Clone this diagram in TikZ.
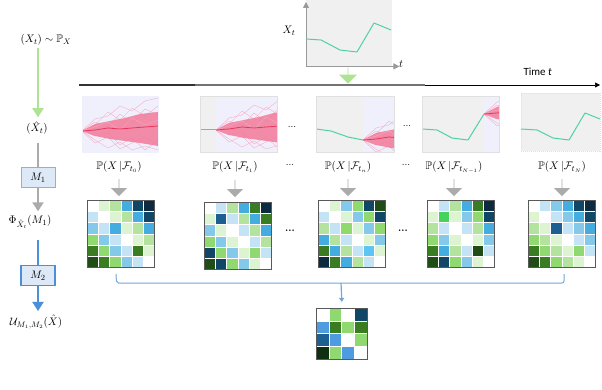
\documentclass[tikz,border=0pt]{standalone}
\usepackage{amsmath,amssymb}
\usepackage{fontspec}
\newfontfamily\carlito{Carlito}
\usetikzlibrary{arrows.meta,shapes.arrows,calc}
\definecolor{cW}{HTML}{FFFFFF}
\definecolor{VG}{HTML}{DCF4D2}
\definecolor{LG}{HTML}{B4E3A0}
\definecolor{MG}{HTML}{90D870}
\definecolor{DG}{HTML}{3A7C22}
\definecolor{XG}{HTML}{1F4D15}
\definecolor{KG}{HTML}{102E10}
\definecolor{GG}{HTML}{45D35C}
\definecolor{VB}{HTML}{C4E4F5}
\definecolor{LB}{HTML}{84C9EA}
\definecolor{MB}{HTML}{45ACE0}
\definecolor{SB}{HTML}{5EC5F2}
\definecolor{PB}{HTML}{4F9BE0}
\definecolor{BB}{HTML}{1C5F90}
\definecolor{DB}{HTML}{114766}
\definecolor{NB}{HTML}{0C2B40}
\definecolor{lav}{HTML}{F0F0FC}
\definecolor{pgray}{HTML}{F0F0F0}
\definecolor{bandc}{HTML}{F27A9A}
\definecolor{pinkl}{HTML}{F7AAC2}
\definecolor{meanc}{HTML}{E8365E}
\definecolor{trajc}{HTML}{4FD1A5}
\definecolor{arrg}{HTML}{AEE394}
\definecolor{arrgray}{HTML}{ABABAB}
\definecolor{arrb}{HTML}{4A90D9}
\definecolor{boxfill}{HTML}{DDE9F6}
\definecolor{bracec}{HTML}{6FA8DC}

\newcommand\heatmap[6]{%
  \foreach \c [count=\k from 0] in {#6} {%
    \pgfmathtruncatemacro\rr{\k/#5}%
    \pgfmathtruncatemacro\qq{\k-\rr*#5}%
    \fill[fill=\c,draw=white,line width=0.2pt] ({#2+\qq*#4},{#3+\rr*#4}) rectangle ++(#4,#4);}%
  \node[matframe, minimum size={#4*#5*1pt}, anchor=north west] (#1) at (#2,#3) {};}

\newcommand\drawfan{%
  \draw[fanline] (0,0) -- (13,-12) -- (26,-15) -- (38,-25) -- (50,-20) -- (63,-30) -- (76,-33) -- (95,-30);
  \draw[fanline] (0,0) -- (13,9) -- (26,17) -- (38,11) -- (50,19) -- (63,15) -- (76,19) -- (95,22);
  \draw[fanline] (0,0) -- (13,-6) -- (26,-19) -- (38,-11) -- (50,-23) -- (63,-15) -- (76,-25) -- (95,-20);
  \draw[fanline] (0,0) -- (13,5) -- (26,2) -- (38,14) -- (50,7) -- (63,19) -- (76,9) -- (95,14);
  \draw[fanline] (0,0) -- (13,12) -- (26,6) -- (38,18) -- (50,12) -- (63,6) -- (76,14) -- (95,6);
  \draw[fanline] (0,0) -- (13,-9) -- (26,-4) -- (38,-17) -- (50,-8) -- (63,-22) -- (76,-16) -- (95,-26);
  \fill[fanband] (0,0) -- (13,-7) -- (28,-10) -- (43,-13) -- (58,-17) -- (76,-19) -- (95,-21)
     -- (95,16) -- (76,15) -- (58,12) -- (43,10) -- (28,8) -- (13,5) -- cycle;
  \draw[fanline] (0,0) -- (13,-4) -- (26,-9) -- (38,-1) -- (50,-13) -- (63,-6) -- (76,-11) -- (95,-8);
  \draw[fanmean] (0,0) -- (13,-1) -- (26,-3) -- (38,-2) -- (50,-3) -- (63,-4) -- (76,-5) -- (95,-6);}

\begin{document}
\begin{tikzpicture}[x=1pt,y=-1pt,
  lbl/.style={font=\fontsize{11}{13}\selectfont, inner sep=2pt},
  mbox/.style={draw=arrgray, fill=boxfill, line width=1pt, minimum width=34pt, minimum height=20pt, inner sep=0pt, font=\fontsize{11}{13}\selectfont},
  mboxb/.style={mbox, draw=arrb, line width=1.2pt},
  garr/.style={draw=arrg, line width=2pt, -{Triangle[width=11pt,length=9pt]}, shorten >=2pt},
  grayln/.style={draw=arrgray, line width=2pt},
  grayarr/.style={grayln, -{Triangle[width=11pt,length=9pt]}, shorten >=2pt},
  blueln/.style={draw=arrb, line width=2pt},
  bluearr/.style={blueln, -{Triangle[width=11pt,length=9pt]}, shorten >=2pt},
  blockarr/.style={single arrow, draw=none, fill=arrgray, minimum width=16pt, single arrow head extend=4pt, minimum height=17pt, inner sep=0pt, single arrow tip angle=90, rotate=-90},
  matframe/.style={draw=black!65, line width=0.7pt, inner sep=0pt, fill=none},
  panel/.style={draw=black!12, line width=0.4pt},
  fanline/.style={draw=pinkl, line width=0.35pt},
  fanband/.style={fill=bandc, opacity=0.85},
  fanmean/.style={draw=meanc, line width=0.8pt},
  traj/.style={draw=trajc, line width=1pt, line join=round},
  dots/.style={font=\fontsize{10}{12}\selectfont, inner sep=1pt},
  bracel/.style={draw=bracec, line width=1pt, rounded corners=2pt}
]
\useasboundingbox (0,0) rectangle (602,390);
\clip (0,0) rectangle (602,390);

% ---------- left column ----------
\node[lbl] (px) at (46,40) {$(X_t)\sim\mathbb{P}_X$};
\node[lbl] (xh) at (37,128) {$(\hat{X}_t)$};
\node[mbox] (m1) at (38,178) {$M_1$};
\node[lbl] (phi) at (30,222) {$\Phi_{\hat{X}_t}(M_1)$};
\node[mboxb] (m2) at (38,275.5) {$M_2$};
\node[lbl] (u) at (36,322) {$\mathcal{U}_{M_1,M_2}(\hat{X})$};
\draw[garr] (m1.north |- px.south) -- (m1.north |- xh.north);
\draw[grayln] ([yshift=-6pt]m1.north |- xh.south) -- (m1.north);
\draw[grayarr] (m1.south) -- (m1.south |- phi.north);
\draw[blueln] ([yshift=-9pt]m2.north |- phi.south) -- (m2.north);
\draw[bluearr] (m2.south) -- (m2.south |- u.north);

% ---------- top chart ----------
\node[fill=pgray, minimum width=86pt, minimum height=66pt, inner sep=0pt, anchor=north west] (chart) at (306,0) {};
\draw[draw=black!40, line width=0.8pt, -{Triangle[width=6pt,length=6pt]}] (chart.south west) -- ([yshift=-2pt]chart.north west);
\draw[draw=black!40, line width=0.8pt, -{Triangle[width=6pt,length=6pt]}] (chart.south west) -- ([xshift=7pt]chart.south east);
\node[lbl] (xt) at (289,31) {$X_t$};
\node[lbl] (tt) at (401,64) {$t$};
\draw[traj] (306,39) -- (321,40) -- (340,50) -- (357,52) -- (374,23) -- (391,30);
\node[blockarr, fill=arrg, minimum width=18pt, single arrow head extend=4pt, minimum height=16pt] (ga) at (348,75.5) {};

% ---------- time axis ----------
\coordinate (t0) at (79,85);
\coordinate (t1) at (195,85);
\coordinate (t2) at (425,85);
\coordinate (t3) at (600,85);
\draw[draw=black!80, line width=1.6pt] (t0) -- (t1);
\draw[draw=black!55, line width=1.6pt] (t1) -- (t2);
\draw[draw=black, line width=0.7pt, -{Triangle[width=5pt,length=5pt]}] (t2) -- (t3);
\node[font=\carlito\fontsize{11}{13}\selectfont, anchor=base west] (time) at (520,76) {Time \textit{t}};

% ---------- panels ----------
% panel 1
\begin{scope}
  \clip (82,96) rectangle (158,152);
  \fill[lav] (82,96) rectangle (158,152);
  \begin{scope}[shift={(82,131)}]\drawfan\end{scope}
\end{scope}
\draw[panel, draw=lav] (82,96) rectangle (158,152);
% panel 2
\begin{scope}
  \clip (200,96) rectangle (277,152);
  \fill[pgray] (200,96) rectangle (216,152);
  \fill[lav] (216,96) rectangle (277,152);
  \draw[traj] (200,130) -- (216,130);
  \begin{scope}[shift={(216,130)}]\drawfan\end{scope}
\end{scope}
\draw[panel] (200,96) rectangle (277,152);
% panel 3
\begin{scope}
  \clip (316,96) rectangle (394,152);
  \fill[pgray] (316,96) rectangle (363,152);
  \fill[lav] (363,96) rectangle (394,152);
  \draw[traj] (316,129) -- (331,131) -- (348,137) -- (363,140);
  \begin{scope}[shift={(363,140)}]\drawfan\end{scope}
\end{scope}
\draw[panel] (316,96) rectangle (394,152);
% panel 4
\begin{scope}
  \clip (422,96) rectangle (499,152);
  \fill[pgray] (422,96) rectangle (484,152);
  \fill[lav] (484,96) rectangle (499,152);
  \draw[traj] (422,129) -- (437,130) -- (452,138) -- (468,140) -- (484,114);
  \begin{scope}[shift={(484,114)}]\drawfan\end{scope}
\end{scope}
\draw[panel] (422,96) rectangle (499,152);
% panel 5
\fill[pgray] (521,93) rectangle (600,151);
\draw[panel, dashed, dash pattern=on 1pt off 1pt] (521,93) rectangle (600,151);
\draw[traj] (521,129) -- (537,130) -- (553,138) -- (569,140) -- (585,113) -- (600,119);

\node[dots] (d1) at (292,127) {...};
\node[dots] (d2) at (407,126) {...};

% ---------- labels ----------
\node[lbl] (l1) at (119,167) {$\mathbb{P}(X\,|\mathcal{F}_{t_0})$};
\node[lbl] (l2) at (235,167) {$\mathbb{P}(X\,|\mathcal{F}_{t_1})$};
\node[lbl] (l3) at (348,167) {$\mathbb{P}(X\,|\mathcal{F}_{t_n})$};
\node[lbl] (l4) at (454,167) {$\mathbb{P}(X\,|\mathcal{F}_{t_{N-1}})$};
\node[lbl] (l5) at (562,167) {$\mathbb{P}(X\,|\mathcal{F}_{t_N})$};
\node[dots] (d3) at (290,165) {...};
\node[dots] (d4) at (406,165) {...};

% ---------- heatmaps ----------
\heatmap{h1}{87}{200}{11.2}{6}{cW,VG,LG,MB,DB,NB, VB,cW,VG,LG,MB,DB, LB,VB,MB,VG,LG,MB, MG,LB,VB,cW,VG,LG, DG,MG,LB,VB,DG,VG, XG,DG,MG,LB,VB,cW}
\heatmap{h2}{204}{202}{11.2}{6}{cW,VB,LG,MB,DG,NB, VG,BB,VB,LG,MB,DG, LB,VG,cW,VB,LG,MB, MG,LB,VG,cW,VB,LG, DB,MG,LB,VG,MG,VB, XG,DB,MG,LB,VG,cW}
\heatmap{h3}{318}{200}{11.2}{6}{cW,VG,LB,MG,DB,XG, VB,cW,VG,LB,MG,DB, LG,VB,MG,VG,LB,MG, MB,LG,VB,cW,VG,LB, DG,MB,LG,VB,SB,VG, NB,DG,MB,LG,VB,cW}
\heatmap{h4}{427}{200}{11.2}{6}{cW,VB,LG,MB,DG,NB, VG,GG,VG,LB,MG,DB, LG,VB,cW,VB,LG,MB, MG,LB,VG,cW,VG,LB, DG,MB,LG,VB,XG,VB, XG,DB,MG,LB,VG,cW}
\heatmap{h5}{528}{200}{11.2}{6}{cW,VB,LB,MB,DB,NB, VG,cW,VB,LB,MB,DB, LG,VG,BB,VB,LB,MB, MG,LG,VG,cW,VB,LB, DG,MG,LG,VG,MG,VB, XG,DG,MG,LG,VG,cW}
\node[dots, font=\bfseries\fontsize{10}{12}\selectfont] (d5) at (290,231) {...};
\node[dots, font=\bfseries\fontsize{10}{12}\selectfont] (d6) at (403,231) {...};

% ---------- gray arrows ----------
\foreach \l/\h in {l1/h1,l2/h2,l3/h3,l4/h4,l5/h5}
  \node[blockarr] at ($(\l.south)!0.5!(\l.south |- \h.north)$) {};

% ---------- brace ----------
\coordinate (bl) at (116,274);
\coordinate (br) at (564,274);
\coordinate (bc) at (341,283);
\draw[bracel] (bl) -- (116.5,283) -- (564,283) -- (br);
\heatmap{hf}{316}{308}{12.75}{4}{cW,MG,cW,DB, PB,DG,MG,DG, BB,PB,cW,MG, KG,MG,PB,cW}
\draw[draw=bracec, line width=1.2pt, -{Triangle[width=5pt,length=4pt]}] (bc) -- ([yshift=6pt]hf.north);

% ---------- caption (cut off at the lower edge) ----------
\node[anchor=base west, font=\fontsize{23}{26}\selectfont, text=black!80, inner sep=0pt] (cap) at (0,413) {Figure 1: The high-level illustration of the high-rank};
\end{tikzpicture}
\end{document}
